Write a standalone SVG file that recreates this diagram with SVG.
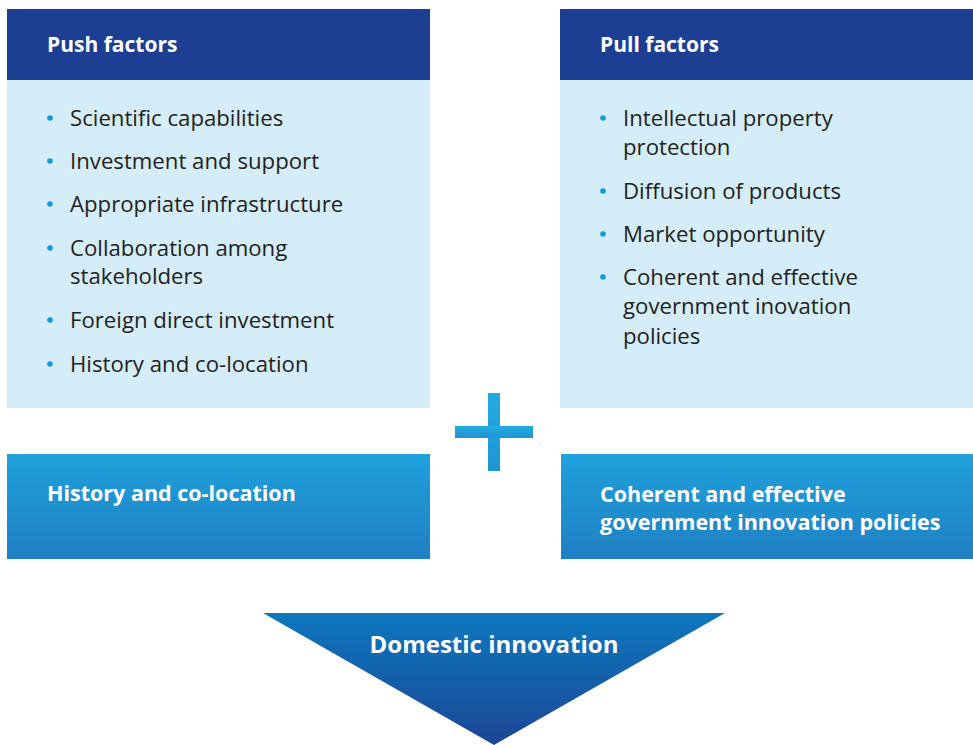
<svg xmlns="http://www.w3.org/2000/svg" width="973" height="745" viewBox="0 0 973 745">
<defs>
<linearGradient id="gBox" x1="0" y1="0" x2="0" y2="1">
<stop offset="0" stop-color="#1fa1dc"/><stop offset="1" stop-color="#1f80c2"/>
</linearGradient>
<linearGradient id="gPlus" x1="0" y1="0" x2="0" y2="1">
<stop offset="0" stop-color="#25abe2"/><stop offset="1" stop-color="#1f95d3"/>
</linearGradient>
<linearGradient id="gTri" gradientUnits="userSpaceOnUse" x1="0" y1="613" x2="0" y2="745">
<stop offset="0" stop-color="#0d78bf"/><stop offset="1" stop-color="#1c4695"/>
</linearGradient>
<style>
.hdr{fill:#1c3f94}
.lt{fill:#d5ecf9}
.t{font-family:"Open Sans","Liberation Sans",sans-serif;font-size:22.2px;fill:#231f20}
.w{font-family:"Open Sans","Liberation Sans",sans-serif;font-size:21px;font-weight:bold;fill:#fff}
.w2{font-family:"Open Sans","Liberation Sans",sans-serif;font-size:21.5px;font-weight:bold;fill:#fff}
.b{fill:#139ad9}
</style>
</defs>
<rect width="973" height="745" fill="#fff"/>
<g id="push">
<rect class="hdr" x="7" y="9" width="423" height="71"/>
<rect class="lt" x="7" y="80" width="423" height="328"/>
<text class="w" x="47" y="52">Push factors</text>
<circle class="b" cx="50" cy="118" r="2.8"/><text class="t" x="70" y="126">Scientific capabilities</text>
<circle class="b" cx="50" cy="161" r="2.8"/><text class="t" x="70" y="169">Investment and support</text>
<circle class="b" cx="50" cy="204" r="2.8"/><text class="t" x="70" y="212">Appropriate infrastructure</text>
<circle class="b" cx="50" cy="248" r="2.8"/><text class="t" x="70" y="256">Collaboration among</text>
<text class="t" x="70" y="284">stakeholders</text>
<circle class="b" cx="50" cy="320" r="2.8"/><text class="t" x="70" y="328">Foreign direct investment</text>
<circle class="b" cx="50" cy="364" r="2.8"/><text class="t" x="70" y="372">History and co-location</text>
</g>
<g id="pull">
<rect class="hdr" x="560" y="9" width="413" height="71"/>
<rect class="lt" x="560" y="80" width="413" height="328"/>
<text class="w" x="600" y="52">Pull factors</text>
<circle class="b" cx="603" cy="118" r="2.8"/><text class="t" x="623" y="126">Intellectual property</text>
<text class="t" x="623" y="155">protection</text>
<circle class="b" cx="603" cy="191" r="2.8"/><text class="t" x="623" y="199">Diffusion of products</text>
<circle class="b" cx="603" cy="234" r="2.8"/><text class="t" x="623" y="242">Market opportunity</text>
<circle class="b" cx="603" cy="277" r="2.8"/><text class="t" x="623" y="285">Coherent and effective</text>
<text class="t" x="623" y="314">government inovation</text>
<text class="t" x="623" y="344">policies</text>
</g>
<g id="plus">
<rect x="488" y="393" width="12" height="78" fill="url(#gPlus)"/>
<rect x="455" y="426" width="78" height="12" fill="url(#gPlus)"/>
</g>
<g id="history">
<rect x="7" y="454" width="423" height="105" fill="url(#gBox)"/>
<text class="w2" x="47" y="501">History and co-location</text>
</g>
<g id="policies">
<rect x="561" y="454" width="412" height="105" fill="url(#gBox)"/>
<text class="w2" x="600" y="502">Coherent and effective</text>
<text class="w2" x="600" y="530">government innovation policies</text>
</g>
<g id="domestic">
<polygon points="263,613 725,613 494,745" fill="url(#gTri)"/>
<text class="w" x="494" y="653" text-anchor="middle" style="font-size:24px">Domestic innovation</text>
</g>
</svg>
